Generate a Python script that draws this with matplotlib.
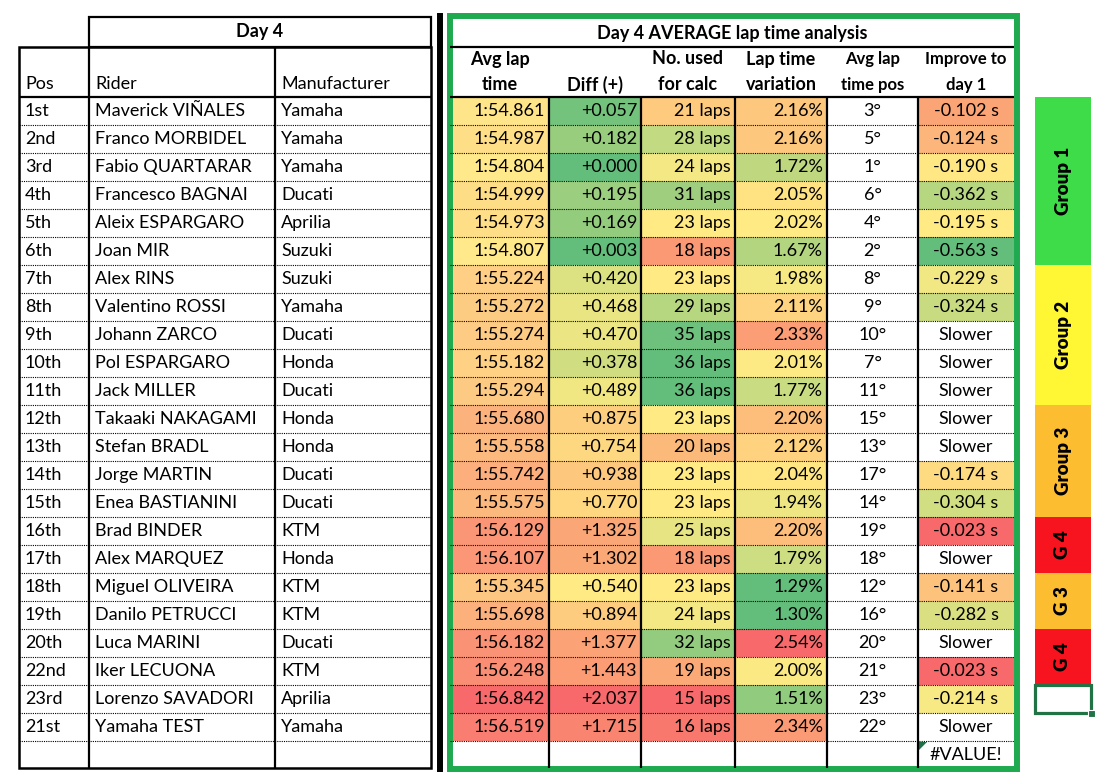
import numpy as np
import matplotlib.pyplot as plt
from matplotlib.patches import Rectangle, Polygon
from matplotlib.colors import LinearSegmentedColormap, TwoSlopeNorm, Normalize

plt.rcParams['font.family'] = ['Lato', 'DejaVu Sans']

# data
pos = ['1st', '2nd', '3rd', '4th', '5th', '6th', '7th', '8th', '9th', '10th', '11th', '12th',
       '13th', '14th', '15th', '16th', '17th', '18th', '19th', '20th', '22nd', '23rd', '21st']
riders = ['Maverick VIÑALES', 'Franco MORBIDEL', 'Fabio QUARTARAR', 'Francesco BAGNAI',
          'Aleix ESPARGARO', 'Joan MIR', 'Alex RINS', 'Valentino ROSSI', 'Johann ZARCO',
          'Pol ESPARGARO', 'Jack MILLER', 'Takaaki NAKAGAMI', 'Stefan BRADL', 'Jorge MARTIN',
          'Enea BASTIANINI', 'Brad BINDER', 'Alex MARQUEZ', 'Miguel OLIVEIRA', 'Danilo PETRUCCI',
          'Luca MARINI', 'Iker LECUONA', 'Lorenzo SAVADORI', 'Yamaha TEST']
makers = ['Yamaha', 'Yamaha', 'Yamaha', 'Ducati', 'Aprilia', 'Suzuki', 'Suzuki', 'Yamaha',
          'Ducati', 'Honda', 'Ducati', 'Honda', 'Honda', 'Ducati', 'Ducati', 'KTM', 'Honda',
          'KTM', 'KTM', 'Ducati', 'KTM', 'Aprilia', 'Yamaha']
lap_times = ['1:54.861', '1:54.987', '1:54.804', '1:54.999', '1:54.973', '1:54.807', '1:55.224',
             '1:55.272', '1:55.274', '1:55.182', '1:55.294', '1:55.680', '1:55.558', '1:55.742',
             '1:55.575', '1:56.129', '1:56.107', '1:55.345', '1:55.698', '1:56.182', '1:56.248',
             '1:56.842', '1:56.519']
diffs = [0.057, 0.182, 0.000, 0.195, 0.169, 0.003, 0.420, 0.468, 0.470, 0.378, 0.489, 0.875,
         0.754, 0.938, 0.770, 1.325, 1.302, 0.540, 0.894, 1.377, 1.443, 2.037, 1.715]
laps = [21, 28, 24, 31, 23, 18, 23, 29, 35, 36, 36, 23, 20, 23, 23, 25, 18, 23, 24, 32, 19, 15, 16]
variation = [2.16, 2.16, 1.72, 2.05, 2.02, 1.67, 1.98, 2.11, 2.33, 2.01, 1.77, 2.20, 2.12, 2.04,
             1.94, 2.20, 1.79, 1.29, 1.30, 2.54, 2.00, 1.51, 2.34]
lap_pos = [3, 5, 1, 6, 4, 2, 8, 9, 10, 7, 11, 15, 13, 17, 14, 19, 18, 12, 16, 20, 21, 23, 22]
improve = [-0.102, -0.124, -0.190, -0.362, -0.195, -0.563, -0.229, -0.324, None, None, None, None,
           None, -0.174, -0.304, -0.023, None, -0.141, -0.282, None, -0.023, -0.214, None]
groups = ['Group 1', 'Group 2', 'Group 3', 'G 4', 'G 3', 'G 4']
group_rows = [6, 5, 4, 2, 2, 2]
group_colors = ['#3EDC48', '#FFF734', '#FCBE30', '#F8141E', '#FCBE30', '#F8141E']

# layout (pixels)
W, H = 1099, 780
row_top, row_h = 97, 28
n = len(pos)
left_edges = [19, 89, 275, 431]
right_edges = [450, 549, 641, 735, 827, 918, 1014]
fs = 13

fig = plt.figure(figsize=(W / 100, H / 100), dpi=100)
ax = fig.add_axes([0, 0, 1, 1])
ax.set_xlim(0, W)
ax.set_ylim(H, 0)
ax.axis('off')

def y_of(i):
    return row_top + row_h * i

bottom = y_of(n + 1) - 1

# colour scales like excel conditional formatting
gyr = LinearSegmentedColormap.from_list('gyr', ['#63BE7B', '#FFEB84', '#F8696B'])
yr = LinearSegmentedColormap.from_list('yr', ['#FFE98A', '#F8696B'])

secs = np.array([int(t.split(':')[0]) * 60 + float(t.split(':')[1]) for t in lap_times])
d = np.array(diffs)
lp = np.array(laps, dtype=float)
va = np.array(variation)
imp_vals = np.array([v for v in improve if v is not None])

n_secs = Normalize(secs.min(), secs.max())
n_diff = TwoSlopeNorm(np.median(d), d.min(), d.max())
n_laps = TwoSlopeNorm(np.median(-lp), (-lp).min(), (-lp).max())
n_var = TwoSlopeNorm(np.median(va), va.min(), va.max())
n_imp = TwoSlopeNorm(np.median(imp_vals), imp_vals.min(), imp_vals.max())

# ---- left table ----
ax.text((left_edges[1] + left_edges[3]) / 2, 32, 'Day 4', ha='center', va='center',
        fontsize=fs, fontweight='bold')
ax.add_patch(Rectangle((left_edges[1], 17), left_edges[3] - left_edges[1], 30,
                       fill=False, ec='black', lw=1.6))
ax.add_patch(Rectangle((left_edges[0], 47), left_edges[3] - left_edges[0], bottom - 47,
                       fill=False, ec='black', lw=1.8))
for x in left_edges[1:3]:
    ax.vlines(x, 47, bottom, color='black', lw=1.6)
ax.hlines(row_top, left_edges[0], left_edges[3], color='black', lw=1.6)
for txt, x in zip(['Pos', 'Rider', 'Manufacturer'], left_edges[:3]):
    ax.text(x + 6, 84, txt, ha='left', va='center', fontsize=fs)

for i in range(n):
    yc = y_of(i) + row_h / 2
    ax.text(left_edges[0] + 6, yc, pos[i], ha='left', va='center', fontsize=fs)
    ax.text(left_edges[1] + 6, yc, riders[i], ha='left', va='center', fontsize=fs)
    ax.text(left_edges[2] + 6, yc, makers[i], ha='left', va='center', fontsize=fs)
for i in range(1, n + 1):
    ax.hlines(y_of(i), left_edges[0], left_edges[3], color='black', lw=0.8, linestyle=(0, (1, 1)))

# double separator
ax.vlines(440, 13, 772, color='black', lw=4.3)

# ---- right table ----
for i in range(n):
    y0 = y_of(i)
    yc = y0 + row_h / 2
    cells = [
        (yr(n_secs(secs[i])), lap_times[i], 'right'),
        (gyr(n_diff(d[i])), '+%.3f' % d[i], 'right'),
        (gyr(n_laps(-lp[i])), '%d laps' % laps[i], 'right'),
        (gyr(n_var(va[i])), '%.2f%%' % va[i], 'right'),
        ('white', '%d°' % lap_pos[i], 'center'),
    ]
    if improve[i] is None:
        cells.append(('white', 'Slower', 'center'))
    else:
        cells.append((gyr(n_imp(improve[i])), '%.3f s' % improve[i], 'center'))
    for j, (col, txt, ha) in enumerate(cells):
        x0, x1 = right_edges[j], right_edges[j + 1]
        ax.add_patch(Rectangle((x0, y0), x1 - x0, row_h, fc=col, ec='none'))
        if ha == 'right':
            ax.text(x1 - 4, yc, txt, ha='right', va='center', fontsize=fs)
        else:
            ax.text((x0 + x1) / 2, yc, txt, ha='center', va='center', fontsize=fs)

for i in range(1, n + 1):
    ax.hlines(y_of(i), right_edges[0], right_edges[-1], color='black', lw=0.8,
              linestyle=(0, (1, 1)))
for x in right_edges[1:-1]:
    ax.vlines(x, row_top, bottom, color='black', lw=1.6)
ax.hlines(row_top, right_edges[0], right_edges[-1], color='black', lw=1.6)
ax.hlines(47, right_edges[0], right_edges[-1], color='black', lw=1.6)

ax.text((right_edges[0] + right_edges[-1]) / 2, 33, 'Day 4 AVERAGE lap time analysis',
        ha='center', va='center', fontsize=fs, fontweight='bold')
headers = [('Avg lap', 'time', fs), ('', 'Diff (+)', fs), ('No. used', 'for calc', fs),
           ('Lap time', 'variation', fs), ('Avg lap', 'time pos', 12),
           ('Improve to', 'day 1', 12)]
for j, (h1, h2, f) in enumerate(headers):
    xc = (right_edges[j] + right_edges[j + 1]) / 2
    ax.text(xc, 59, h1, ha='center', va='center', fontsize=f, fontweight='bold')
    ax.text(xc, 85, h2, ha='center', va='center', fontsize=f, fontweight='bold')

# error cell in last blank row
yb = y_of(n)
xb = right_edges[5]
ax.add_patch(Polygon([(xb + 1, yb + 1), (xb + 9, yb + 1), (xb + 1, yb + 9)], closed=True,
                     fc='#1E7145', ec='none'))
ax.text((right_edges[5] + right_edges[6]) / 2, yb + row_h / 2, '#VALUE!', ha='center',
        va='center', fontsize=fs)

# green frame
ax.add_patch(Rectangle((450, 16), 567, 753, fill=False, ec='#1FAA50', lw=4.3))

# ---- group column ----
gx0, gx1 = 1035, 1091
start = 0
for label, cnt, col in zip(groups, group_rows, group_colors):
    y0 = y_of(start)
    ax.add_patch(Rectangle((gx0, y0), gx1 - gx0, cnt * row_h, fc=col, ec='none'))
    ax.text((gx0 + gx1) / 2, y0 + cnt * row_h / 2, label, ha='center', va='center',
            rotation=90, fontsize=13.5, fontweight='heavy')
    start += cnt

# selected empty cell
ys = y_of(start)
ax.add_patch(Rectangle((gx0, ys), gx1 - gx0, row_h, fill=False, ec='#217346', lw=2.3))
ax.add_patch(Rectangle((gx1 - 3, ys + row_h - 3), 7, 7, fc='#217346', ec='white', lw=0.8))

fig.savefig('out.png', dpi=100)
